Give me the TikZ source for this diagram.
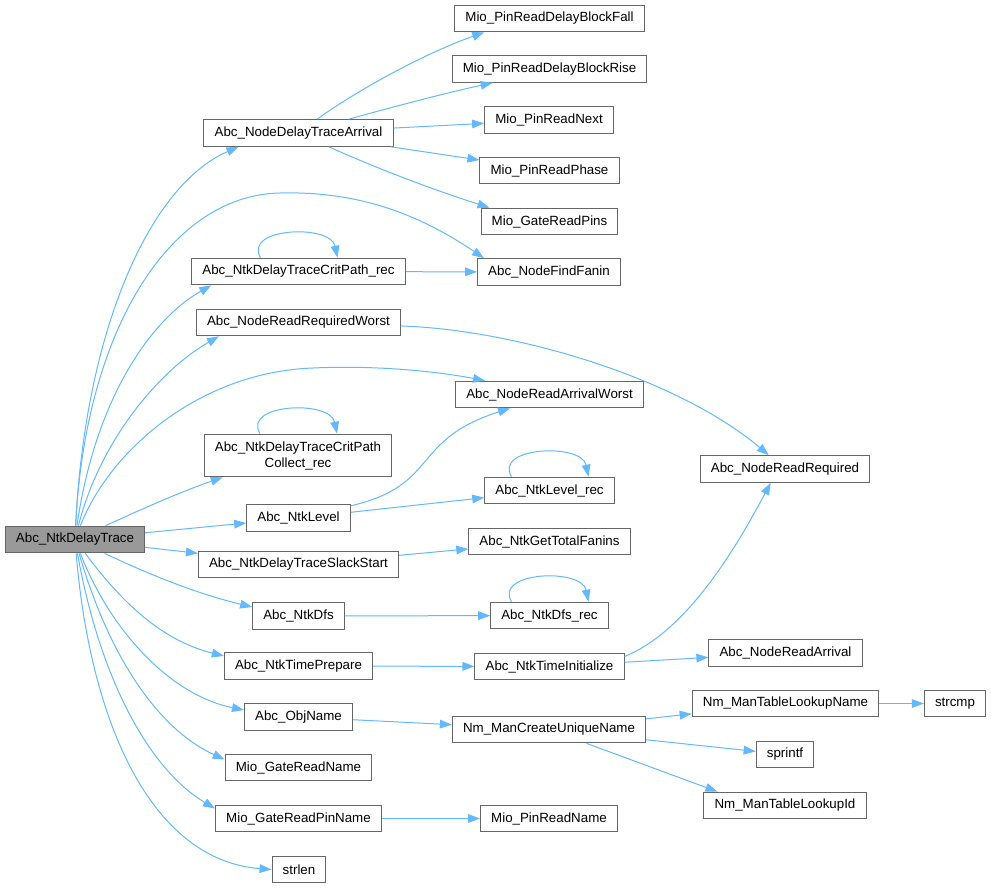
\documentclass[tikz,border=0pt]{standalone}
\usepackage{fontspec}
\setmainfont{Liberation Sans}
\usepackage{tikz}
\usetikzlibrary{arrows.meta,calc}

\definecolor{edgeblue}{HTML}{63B8FF}
\definecolor{boxgray}{HTML}{666666}
\definecolor{rootfill}{HTML}{999999}

\begin{document}
\begin{tikzpicture}[
    x=0.75pt, y=-0.75pt,
    font=\fontsize{10}{12}\selectfont,
    fnbox/.style={draw=boxgray, fill=white, line width=0.75pt, inner xsep=8pt, inner ysep=0pt, minimum height=20pt},
    rootbox/.style={fnbox, fill=rootfill},
    callarrow/.style={draw=edgeblue, line width=0.75pt, -{Triangle[length=9pt, width=6.5pt]}}
]

\useasboundingbox (0,0) rectangle (991,888);

\newcommand{\drawloop}[1]{
    \draw[callarrow] ($(#1.north)+(-38,0)$) .. controls ($(#1.north)+(-56,-30)$) and ($(#1.north)+(32,-34)$) .. ($(#1.north)+(39,0)$);
}

% caller
\node[rootbox] (root) at (75,539.5) {Abc\_NtkDelayTrace};

% first column
\node[fnbox] (arr) at (298.5,133) {Abc\_NodeDelayTraceArrival};
\node[fnbox] (critrec) at (298.5,271.5) {Abc\_NtkDelayTraceCritPath\_rec};
\node[fnbox] (reqworst) at (298.5,322.5) {Abc\_NodeReadRequiredWorst};
\node[fnbox, align=center, minimum height=32pt] (collect) at (298,455.5) {Abc\_NtkDelayTraceCritPath\\Collect\_rec};
\node[fnbox] (level) at (298.5,518) {Abc\_NtkLevel};
\node[fnbox] (slack) at (298.5,564.5) {Abc\_NtkDelayTraceSlackStart};
\node[fnbox] (dfs) at (298.5,616) {Abc\_NtkDfs};
\node[fnbox] (prep) at (298.5,666) {Abc\_NtkTimePrepare};
\node[fnbox] (objname) at (298.5,717) {Abc\_ObjName};
\node[fnbox] (gname) at (298.5,767.5) {Mio\_GateReadName};
\node[fnbox] (gpin) at (298.5,818.5) {Mio\_GateReadPinName};
\node[fnbox] (strlen) at (299,869.5) {strlen};

% second column
\node[fnbox] (fall) at (549.5,18.5) {Mio\_PinReadDelayBlockFall};
\node[fnbox] (rise) at (549.5,69) {Mio\_PinReadDelayBlockRise};
\node[fnbox] (pnext) at (549,120) {Mio\_PinReadNext};
\node[fnbox] (phase) at (549.5,170.5) {Mio\_PinReadPhase};
\node[fnbox] (gpins) at (549.5,221.5) {Mio\_GateReadPins};
\node[fnbox] (fanin) at (549,272) {Abc\_NodeFindFanin};
\node[fnbox] (arrworst) at (549.5,394.5) {Abc\_NodeReadArrivalWorst};
\node[fnbox] (levrec) at (549.5,490.5) {Abc\_NtkLevel\_rec};
\node[fnbox] (totfan) at (549.5,541.5) {Abc\_NtkGetTotalFanins};
\node[fnbox] (dfsrec) at (549.5,615.5) {Abc\_NtkDfs\_rec};
\node[fnbox] (tinit) at (549.5,666.5) {Abc\_NtkTimeInitialize};
\node[fnbox] (uniq) at (549,729.5) {Nm\_ManCreateUniqueName};
\node[fnbox] (pname) at (549,818.5) {Mio\_PinReadName};

% third column
\node[fnbox] (req) at (785,469) {Abc\_NodeReadRequired};
\node[fnbox] (arrival) at (785.5,653) {Abc\_NodeReadArrival};
\node[fnbox] (lookname) at (785.5,703.5) {Nm\_ManTableLookupName};
\node[fnbox] (sprintf) at (785,754.5) {sprintf};
\node[fnbox] (lookid) at (785,805.5) {Nm\_ManTableLookupId};
\node[fnbox] (strcmp) at (955,703.5) {strcmp};

% calls from the caller
\draw[callarrow] (root) .. controls (85,330) and (150,185) .. ($(arr.south west)+(35,0)$);
\draw[callarrow] (root) .. controls (95,400) and (150,320) .. ($(critrec.south west)+(20,0)$);
\draw[callarrow] (root) .. controls (85,330) and (170,195) .. (280,193) .. controls (360,191) and (420,215) .. ($(fanin.north west)+(7,0)$);
\draw[callarrow] (root) .. controls (100,440) and (160,370) .. ($(reqworst.south west)+(23,0)$);
\draw[callarrow] (root) .. controls (110,450) and (200,372) .. (313,368) .. controls (380,365) and (440,372) .. ($(arrworst.north west)+(30,0)$);
\draw[callarrow] (root) .. controls (140,510) and (180,492) .. ($(collect.south west)+(19,0)$);
\draw[callarrow] (root) -- (level);
\draw[callarrow] (root) -- (slack);
\draw[callarrow] (root) .. controls (140,570) and (190,592) .. ($(dfs.west)+(0,-9)$);
\draw[callarrow] (root) .. controls (120,600) and (160,640) .. ($(prep.west)+(0,-10)$);
\draw[callarrow] (root) .. controls (110,630) and (170,695) .. ($(objname.west)+(0,-7)$);
\draw[callarrow] (root) .. controls (110,660) and (160,730) .. ($(gname.west)+(0,-8)$);
\draw[callarrow] (root) .. controls (100,680) and (150,770) .. ($(gpin.west)+(0,-10)$);
\draw[callarrow] (root) .. controls (90,720) and (150,860) .. (strlen.west);

% second level
\draw[callarrow] (arr) .. controls (350,95) and (420,55) .. ($(fall.south west)+(30,0)$);
\draw[callarrow] (arr) .. controls (400,105) and (450,92) .. ($(rise.south west)+(41,0)$);
\draw[callarrow] (arr) -- (pnext);
\draw[callarrow] (arr) -- (phase);
\draw[callarrow] (arr) .. controls (380,170) and (440,192) .. ($(gpins.north west)+(9,0)$);
\draw[callarrow] (critrec) -- (fanin);
\drawloop{critrec}
\draw[callarrow] (reqworst) .. controls (520,330) and (680,380) .. ($(req.north west)+(69,0)$);
\drawloop{collect}
\draw[callarrow] (level) .. controls (440,485) and (410,440) .. ($(arrworst.south west)+(55,0)$);
\draw[callarrow] (level) -- (levrec);
\drawloop{levrec}
\draw[callarrow] (slack) -- (totfan);
\draw[callarrow] (dfs) -- (dfsrec);
\drawloop{dfsrec}
\draw[callarrow] (prep) -- (tinit);
\draw[callarrow] (objname) -- (uniq);
\draw[callarrow] (gpin) -- (pname);

% third level
\draw[callarrow] ($(tinit.east)+(0,-10)$) .. controls (690,630) and (740,540) .. ($(req.south west)+(71,0)$);
\draw[callarrow] (tinit) -- (arrival);
\draw[callarrow] (uniq) -- (lookname);
\draw[callarrow] (uniq) -- (sprintf);
\draw[callarrow] (uniq) -- ($(lookid.north west)+(14,0)$);
\draw[callarrow] (lookname) -- (strcmp);

\end{tikzpicture}
\end{document}
